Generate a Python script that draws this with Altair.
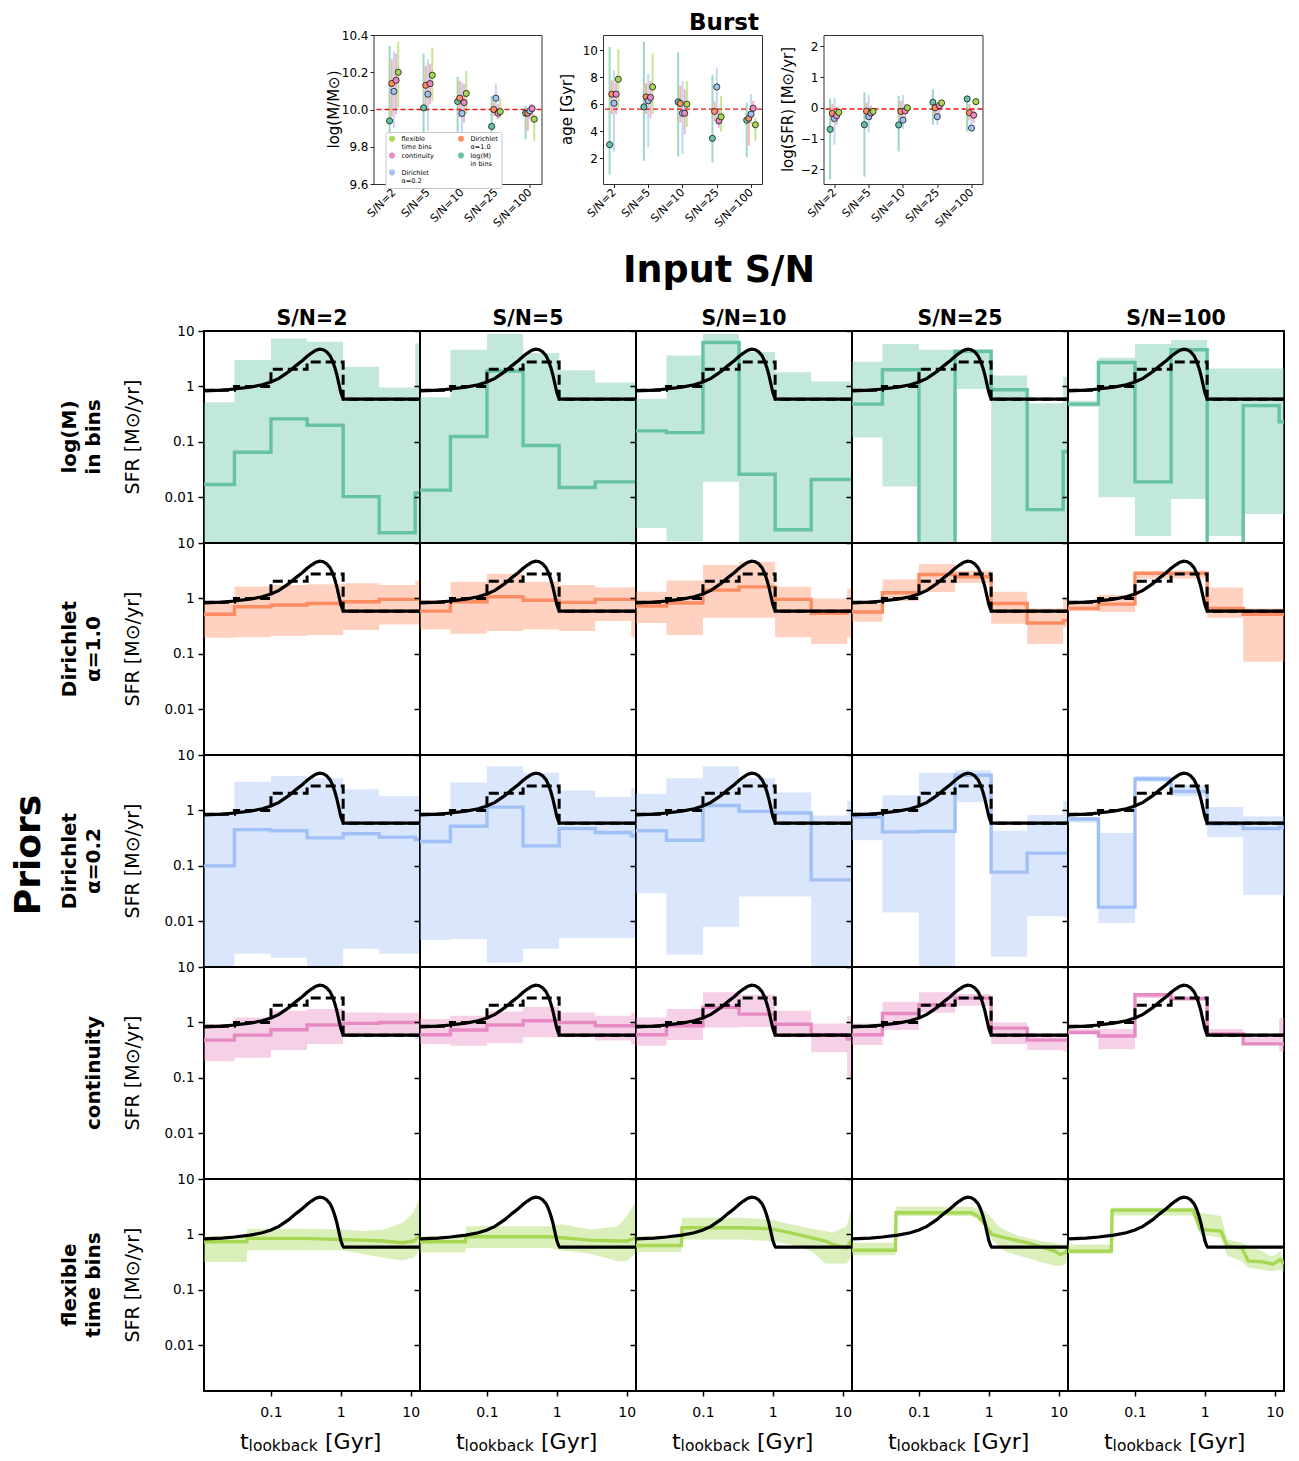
import json
import altair as alt
import pandas as pd

FONT = "DejaVu Sans"

# ---------------- categories ----------------
SN_LABELS = ["S/N=2", "S/N=5", "S/N=10", "S/N=25", "S/N=100"]
PRIOR_LABELS = ["log(M)|in bins", "Dirichlet|α=1.0", "Dirichlet|α=0.2", "continuity", "flexible|time bins"]
PRIOR_COLORS = ["#66c2a5", "#fc8d62", "#a1c0f5", "#e78ac3", "#a6d854"]
LEGEND_ORDER = ["flexible|time bins", "continuity", "Dirichlet|α=0.2", "Dirichlet|α=1.0", "log(M)|in bins"]
PRIOR_SHIFT = [-0.127, -0.0635, 0.0, 0.0635, 0.127]

# ---------------- top panels (rows: prior, cols: S/N) ----------------
MASS_TRUE = 10.0
MASS_MED = [[9.939, 10.009, 10.043, 9.909, 9.98],
            [10.14, 10.13, 10.061, 10.0, 9.98],
            [10.097, 10.082, 9.979, 10.061, 9.993],
            [10.157, 10.139, 10.037, 9.98, 10.005],
            [10.2, 10.184, 10.086, 9.989, 9.948]]
MASS_LO = [[9.72, 9.78, 9.85, 9.87, 9.84],
           [9.96, 9.993, 9.957, 9.966, 9.886],
           [9.9, 9.886, 9.85, 9.975, 9.948],
           [9.975, 10.029, 9.93, 9.948, 9.966],
           [10.01, 10.046, 9.975, 9.957, 9.832]]
MASS_HI = [[10.34, 10.3, 10.175, 10.073, 10.02],
           [10.27, 10.234, 10.154, 10.043, 9.996],
           [10.31, 10.27, 10.145, 10.136, 10.029],
           [10.3, 10.246, 10.136, 10.029, 10.029],
           [10.364, 10.332, 10.207, 10.055, 9.975]]

AGE_TRUE = 5.63
AGE_MED = [[2.99, 5.8, 6.17, 3.46, 4.81],
           [6.74, 6.54, 6.05, 5.46, 4.96],
           [6.07, 6.25, 5.33, 7.28, 5.26],
           [6.74, 6.5, 5.33, 4.77, 5.7],
           [7.85, 7.28, 6.0, 5.06, 4.47]]
AGE_LO = [[0.77, 1.8, 2.12, 1.68, 2.05],
          [5.26, 5.26, 4.64, 4.72, 2.91],
          [2.47, 2.79, 2.3, 4.47, 4.52],
          [5.26, 4.96, 3.78, 4.27, 5.01],
          [5.75, 5.26, 4.32, 3.98, 3.28]]
AGE_HI = [[10.25, 10.64, 9.83, 8.15, 6.12],
          [7.78, 7.56, 7.36, 6.2, 5.5],
          [8.52, 8.27, 7.73, 8.67, 6.74],
          [7.6, 7.73, 7.11, 5.56, 6.25],
          [10.07, 9.75, 7.73, 6.62, 5.01]]

SFR_TRUE = -0.04
SFR_MED = [[-0.70, -0.55, -0.56, 0.18, 0.29],
           [-0.18, -0.11, -0.12, 0.0, -0.16],
           [-0.35, -0.29, -0.40, -0.29, -0.66],
           [-0.26, -0.17, -0.10, 0.07, -0.24],
           [-0.15, -0.12, 0.0, 0.16, 0.2]]
SFR_LO = [[-2.32, -2.24, -1.42, -0.55, -0.77],
          [-0.48, -0.37, -0.53, -0.26, -0.4],
          [-1.2, -0.8, -0.69, -0.55, -0.75],
          [-0.55, -0.4, -0.31, -0.26, -0.48],
          [-0.31, -0.26, -0.12, 0.07, 0.12]]
SFR_HI = [[0.3, 0.5, 0.39, 0.6, 0.3],
          [0.12, 0.17, 0.23, 0.23, 0.12],
          [0.34, 0.42, 0.42, 0.12, -0.31],
          [0.03, 0.07, 0.12, 0.23, -0.01],
          [0.01, 0.01, 0.12, 0.25, 0.25]]

# ---------------- SFH grid ----------------
BIN_EDGES = [0.011, 0.03, 0.1, 0.329, 1.08, 3.54, 11.6, 13.6]
TRUE_BIN = [0.85, 1.0, 2.05, 2.75, 0.59, 0.59, 0.59]
TRUE_T = [0.011, 0.02, 0.03, 0.05, 0.075, 0.1, 0.13, 0.18, 0.23, 0.28, 0.33, 0.38, 0.44,
          0.5, 0.56, 0.63, 0.7, 0.76, 0.82, 0.88, 0.94, 1.0, 1.06, 1.1, 13.6]
TRUE_SFR = [0.83, 0.86, 0.9, 0.97, 1.07, 1.2, 1.4, 1.85, 2.4, 2.9, 3.5, 4.0, 4.5,
            4.7, 4.6, 4.2, 3.6, 2.9, 2.2, 1.6, 1.1, 0.78, 0.63, 0.59, 0.59]

LOGM_MED = [[0.017, 0.065, 0.26, 0.20, 0.0103, 0.0023, 0.012],
            [0.0135, 0.125, 1.9, 0.086, 0.015, 0.019, 0.019],
            [0.158, 0.147, 6.2, 0.026, 0.0026, 0.021, 0.021],
            [0.48, 2.0, 0.0003, 4.3, 0.87, 0.006, 0.067],
            [0.48, 2.7, 0.019, 4.6, 0.0003, 0.45, 0.23]]
LOGM_LO = [[0.0005, 0.0005, 0.0005, 0.0005, 0.0005, 0.0005, 0.0005],
           [0.0005, 0.0005, 0.0005, 0.0005, 0.0005, 0.0005, 0.0005],
           [0.0028, 0.0016, 0.019, 0.0005, 0.0005, 0.0005, 0.0005],
           [0.12, 0.0156, 0.0005, 0.9, 0.0005, 0.0005, 0.0005],
           [0.43, 0.01, 0.002, 0.0093, 0.002, 0.005, 0.005]]
LOGM_HI = [[0.52, 3.0, 7.3, 6.4, 2.26, 0.96, 6.0],
           [0.64, 4.6, 8.8, 4.0, 1.95, 1.18, 1.18],
           [0.6, 3.6, 8.8, 4.2, 1.8, 1.23, 1.23],
           [2.8, 5.8, 4.6, 4.4, 1.58, 0.5, 1.5],
           [0.55, 3.3, 5.8, 6.9, 2.1, 2.1, 2.1]]

DIR10_MED = [[0.52, 0.71, 0.76, 0.81, 0.87, 0.96, 0.96],
             [0.59, 0.87, 1.07, 0.93, 0.85, 0.96, 0.96],
             [0.73, 0.83, 1.41, 1.62, 0.96, 0.54, 0.6],
             [0.57, 1.27, 2.7, 2.46, 0.81, 0.36, 0.4],
             [0.66, 0.79, 2.83, 2.83, 0.66, 0.52, 0.52]]
DIR10_LO = [[0.195, 0.2, 0.21, 0.22, 0.27, 0.34, 0.34],
            [0.275, 0.23, 0.26, 0.275, 0.26, 0.39, 0.2],
            [0.36, 0.22, 0.45, 0.45, 0.2, 0.15, 0.2],
            [0.38, 0.9, 1.3, 1.9, 0.35, 0.15, 0.3],
            [0.6, 0.57, 2.3, 2.3, 0.45, 0.072, 0.072]]
DIR10_HI = [[0.9, 1.65, 1.75, 1.8, 1.87, 1.75, 2.1],
            [0.93, 2.0, 2.8, 2.0, 1.74, 1.58, 1.6],
            [1.32, 2.1, 4.0, 4.6, 1.62, 1.0, 1.5],
            [0.81, 2.2, 4.2, 3.16, 1.32, 0.66, 1.0],
            [0.83, 1.15, 3.16, 3.16, 1.58, 0.66, 0.66]]

DIR02_MED = [[0.1, 0.45, 0.43, 0.32, 0.38, 0.33, 0.3],
             [0.275, 0.52, 1.15, 0.23, 0.47, 0.4, 0.35],
             [0.43, 0.29, 1.23, 0.96, 0.9, 0.056, 0.056],
             [0.76, 0.41, 0.42, 4.3, 0.077, 0.17, 0.17],
             [0.7, 0.018, 3.7, 2.2, 0.57, 0.47, 0.5]]
DIR02_LO = [[0.0005, 0.0026, 0.0022, 0.0005, 0.0032, 0.0026, 0.0026],
            [0.0046, 0.0048, 0.0018, 0.0032, 0.005, 0.005, 0.005],
            [0.032, 0.0025, 0.008, 0.028, 0.028, 0.0005, 0.0005],
            [0.29, 0.0145, 0.0005, 1.41, 0.0023, 0.0123, 0.012],
            [0.6, 0.0093, 3.3, 1.8, 0.33, 0.03, 0.03]]
DIR02_HI = [[0.87, 3.3, 4.2, 3.8, 2.4, 1.8, 1.8],
            [0.93, 3.2, 6.3, 4.8, 2.3, 1.74, 2.5],
            [2.0, 3.8, 6.3, 3.8, 2.1, 0.81, 1.5],
            [0.93, 1.87, 4.8, 5.3, 0.43, 0.83, 1.5],
            [0.76, 0.39, 4.2, 2.83, 1.15, 0.78, 0.78]]

CONT_MED = [[0.48, 0.59, 0.74, 0.9, 0.96, 1.0, 1.0],
            [0.6, 0.73, 0.9, 1.07, 1.0, 0.87, 0.87],
            [0.6, 0.87, 1.87, 1.41, 0.93, 0.6, 0.5],
            [0.6, 1.45, 2.08, 2.75, 0.79, 0.48, 0.48],
            [0.66, 0.57, 3.16, 2.7, 0.62, 0.41, 0.41]]
CONT_LO = [[0.2, 0.23, 0.32, 0.41, 0.57, 0.57, 0.5],
           [0.41, 0.38, 0.42, 0.54, 0.54, 0.47, 0.4],
           [0.38, 0.48, 0.81, 0.83, 0.54, 0.29, 0.1],
           [0.39, 0.73, 1.5, 2.0, 0.41, 0.32, 0.3],
           [0.62, 0.33, 2.75, 2.46, 0.57, 0.39, 0.3]]
CONT_HI = [[0.93, 1.23, 1.62, 1.74, 1.51, 1.5, 1.5],
           [1.15, 1.32, 1.58, 1.92, 1.51, 1.32, 1.5],
           [1.23, 1.74, 3.5, 3.16, 1.62, 0.96, 1.3],
           [0.96, 2.36, 3.5, 3.25, 1.0, 0.62, 0.6],
           [0.76, 0.76, 3.3, 2.9, 0.76, 0.54, 1.2]]

FLEX_T = [[0.011, 0.045, 0.046, 0.3, 1.0, 2.0, 4.0, 7.7, 10.9, 13.6],
          [0.011, 0.049, 0.05, 0.77, 1.2, 3.0, 7.5, 10.0, 13.6],
          [0.011, 0.049, 0.05, 0.37, 0.92, 1.8, 3.6, 5.7, 7.2, 11.4, 13.6],
          [0.011, 0.046, 0.047, 0.56, 0.7, 0.88, 1.1, 1.38, 1.7, 2.75, 3.5, 5.5, 8.7, 10.5, 12.5, 13.6],
          [0.011, 0.046, 0.047, 0.68, 0.86, 1.7, 2.1, 3.4, 4.2, 6.7, 8.5, 9.5, 12.0, 13.6]]
FLEX_MED = [[0.74, 0.74, 0.85, 0.85, 0.81, 0.79, 0.76, 0.71, 0.76, 0.93],
            [0.74, 0.74, 0.91, 0.91, 0.87, 0.79, 0.76, 0.76, 0.87],
            [0.63, 0.63, 1.32, 1.32, 1.27, 1.07, 0.87, 0.76, 0.66, 0.57, 0.81],
            [0.52, 0.52, 2.46, 2.46, 2.14, 1.52, 1.0, 0.93, 0.87, 0.76, 0.71, 0.6, 0.5, 0.435, 0.47, 0.57],
            [0.5, 0.5, 2.75, 2.75, 1.23, 1.15, 0.62, 0.57, 0.33, 0.32, 0.3, 0.29, 0.35, 0.3]]
FLEX_LO = [[0.32, 0.32, 0.52, 0.52, 0.52, 0.45, 0.38, 0.34, 0.38, 0.54],
           [0.47, 0.47, 0.57, 0.57, 0.52, 0.45, 0.33, 0.33, 0.47],
           [0.48, 0.48, 0.81, 0.81, 0.76, 0.66, 0.5, 0.3, 0.3, 0.3, 0.41],
           [0.42, 0.42, 2.14, 2.14, 1.87, 1.41, 0.81, 0.62, 0.5, 0.41, 0.38, 0.32, 0.275, 0.27, 0.29, 0.35],
           [0.45, 0.45, 2.2, 2.2, 1.0, 0.87, 0.41, 0.33, 0.25, 0.23, 0.217, 0.217, 0.23, 0.217]]
FLEX_HI = [[0.93, 0.93, 1.27, 1.27, 1.23, 1.15, 1.23, 1.62, 2.46, 4.9],
           [0.93, 0.93, 1.41, 1.41, 1.52, 1.23, 1.41, 2.14, 4.0],
           [0.93, 0.93, 2.0, 2.0, 1.87, 1.52, 1.27, 1.15, 1.07, 1.41, 3.25],
           [0.71, 0.71, 3.16, 3.16, 2.91, 2.64, 2.0, 1.41, 1.2, 0.93, 0.87, 0.76, 0.71, 0.66, 0.66, 0.93],
           [0.66, 0.66, 3.03, 3.03, 2.46, 2.14, 0.81, 0.71, 0.62, 0.5, 0.41, 0.41, 0.5, 0.33]]

STEP_ROWS = [(LOGM_MED, LOGM_LO, LOGM_HI), (DIR10_MED, DIR10_LO, DIR10_HI),
             (DIR02_MED, DIR02_LO, DIR02_HI), (CONT_MED, CONT_LO, CONT_HI)]

ONE = pd.DataFrame({"k": [0]})
LEFT_EDGE = -194  # common left extent of the top block and the grid


def txt(text, x, y, size, weight="normal", angle=0, align="center", baseline="middle", line_height=None):
    kw = dict(text=text, fontSize=size, fontWeight=weight, align=align, baseline=baseline,
              font=FONT, color="black")
    if angle:
        kw["angle"] = angle
    if line_height:
        kw["lineHeight"] = line_height
    return alt.Chart(ONE).mark_text(**kw).encode(x=alt.value(x), y=alt.value(y))


def edge_marker(y):
    return alt.Chart(ONE).mark_rule(color="white", strokeWidth=1).encode(
        x=alt.value(LEFT_EDGE), y=alt.value(y), y2=alt.value(y + 2))


W, H = 216, 212


def sfh_panel(r, c):
    color = PRIOR_COLORS[r]
    if r < 4:
        med, lo, hi = (a[c] for a in STEP_ROWS[r])
        df = pd.DataFrame({"t": BIN_EDGES, "med": med + med[-1:], "lo": lo + lo[-1:], "hi": hi + hi[-1:]})
        interp = "step-after"
    else:
        df = pd.DataFrame({"t": FLEX_T[c], "med": FLEX_MED[c], "lo": FLEX_LO[c], "hi": FLEX_HI[c]})
        interp = "linear"
    if r == 4:
        xaxis = alt.Axis(values=[0.1, 1, 10], format=".1~f", domain=False, grid=False, ticks=True,
                         tickSize=5, tickWidth=1.5, tickColor="black", labelFontSize=14,
                         labelColor="black", labelFont=FONT, labelPadding=9, labelFlush=False,
                         labelOverlap=False)
    else:
        xaxis = None
    yaxis = alt.Axis(values=[0.01, 0.1, 1, 10], format=".2~f", domain=False, grid=False, ticks=True,
                     tickSize=6, tickWidth=1.5, tickColor="black", labels=(c == 0), labelFontSize=13.5,
                     labelColor="black", labelFont=FONT, labelPadding=4, labelOverlap=False,
                     labelFlush=False)
    xs = alt.Scale(type="log", domain=[0.011, 13.6], nice=False)
    ys = alt.Scale(type="log", domain=[0.0015, 10], nice=False)
    band = alt.Chart(df).mark_area(interpolate=interp, color=color, opacity=0.4, clip=True).encode(
        x=alt.X("t:Q", scale=xs, axis=xaxis, title=None),
        y=alt.Y("lo:Q", scale=ys, axis=yaxis, title=None), y2="hi:Q")
    medl = alt.Chart(df).mark_line(interpolate=interp, color=color, strokeWidth=3.4, clip=True).encode(
        x=alt.X("t:Q", title=None), y=alt.Y("med:Q", title=None))
    layers = [band, medl]
    if r < 4:
        dfb = pd.DataFrame({"t": BIN_EDGES, "v": TRUE_BIN + TRUE_BIN[-1:]})
        layers.append(alt.Chart(dfb).mark_line(interpolate="step-after", color="black", strokeWidth=3,
                                               strokeDash=[10, 5], clip=True).encode(
            x=alt.X("t:Q", title=None), y=alt.Y("v:Q", title=None)))
    dft = pd.DataFrame({"t": TRUE_T, "v": TRUE_SFR})
    layers.append(alt.Chart(dft).mark_line(color="black", strokeWidth=3.2, clip=True).encode(
        x=alt.X("t:Q", title=None), y=alt.Y("v:Q", title=None)))
    # annotations
    if r == 0:
        layers.append(txt(SN_LABELS[c], W / 2, -6, 20.5, weight="bold", baseline="alphabetic"))
        if c == 2:
            layers.append(txt("Input S/N", 83, -49, 36.5, weight="bold", baseline="alphabetic"))
    if c == 0:
        lines = PRIOR_LABELS[r].split("|")
        if len(lines) > 1:
            layers.append(txt(lines, -134, H / 2, 20, weight="bold", angle=270, line_height=24))
        else:
            layers.append(txt(lines[0], -110, H / 2, 20, weight="bold", angle=270))
        layers.append(txt("SFR [M⊙/yr]", -71, H / 2, 19, angle=270))
        if r == 2:
            layers.append(txt("Priors", -175, 100, 36, weight="bold", angle=270))
            layers.append(edge_marker(100))
    if r == 4:
        layers.append(txt("t", 36, 270, 22, align="left", baseline="alphabetic"))
        layers.append(txt("lookback", 44.6, 271.5, 15.5, align="left", baseline="alphabetic"))
        layers.append(txt("[Gyr]", 121, 270, 22, align="left", baseline="alphabetic"))
    return alt.layer(*layers).properties(width=W, height=H)


def top_panel(med, lo, hi, truth, ydom, yvals, yfmt, ytitle, ytitle_x, xdom, w, show_legend, extra=()):
    rows = []
    for p in range(5):
        for s in range(5):
            rows.append({"prior": PRIOR_LABELS[p], "pos": s + PRIOR_SHIFT[p],
                         "med": med[p][s], "lo": lo[p][s], "hi": hi[p][s]})
    df = pd.DataFrame(rows)
    cscale = alt.Scale(domain=LEGEND_ORDER,
                       range=[PRIOR_COLORS[PRIOR_LABELS.index(l)] for l in LEGEND_ORDER])
    if show_legend:
        leg = alt.Legend(orient="none", legendX=12, legendY=97, columns=2, title=None,
                         labelExpr="split(datum.label, '|')", labelFontSize=6.5, labelFont=FONT,
                         labelColor="black", symbolType="circle", symbolSize=30,
                         symbolStrokeColor="black", symbolStrokeWidth=0.6, symbolOpacity=1,
                         fillColor="white", strokeColor="#c8c8c8", padding=3, rowPadding=0,
                         columnPadding=22, cornerRadius=2, labelLimit=200, labelOffset=6)
    else:
        leg = None
    xaxis = alt.Axis(values=[0, 1, 2, 3, 4], labelExpr=json.dumps(SN_LABELS) + "[datum.value]",
                     labelAngle=315, labelAlign="right", labelBaseline="middle", labelFontSize=11,
                     labelFont=FONT, labelColor="black", tickSize=3.5, tickColor="#222222",
                     domain=False, grid=False, labelPadding=3, labelFlush=False, labelOverlap=False)
    yaxis = alt.Axis(values=yvals, format=yfmt, labelFontSize=12, labelFont=FONT, labelColor="black",
                     tickSize=3.5, tickColor="#222222", domain=False, grid=False, labelPadding=2,
                     labelFlush=False, labelOverlap=False)
    xsc = alt.Scale(domain=xdom, nice=False, zero=False)
    ysc = alt.Scale(domain=ydom, nice=False, zero=False)
    bars = alt.Chart(df).mark_rule(strokeWidth=2, opacity=0.65).encode(
        x=alt.X("pos:Q", scale=xsc, axis=xaxis, title=None),
        y=alt.Y("lo:Q", scale=ysc, axis=yaxis, title=None),
        y2="hi:Q",
        color=alt.Color("prior:N", scale=cscale, legend=leg))
    tr = alt.Chart(pd.DataFrame({"v": [truth]})).mark_rule(
        color="#ee1111", strokeDash=[5, 3], strokeWidth=1.4).encode(
        y=alt.Y("v:Q", scale=ysc, axis=yaxis, title=None))
    pts = alt.Chart(df).mark_circle(size=38, opacity=1, stroke="black", strokeWidth=0.7).encode(
        x=alt.X("pos:Q", scale=xsc, axis=xaxis, title=None),
        y=alt.Y("med:Q", scale=ysc, axis=yaxis, title=None),
        color=alt.Color("prior:N", scale=cscale, legend=leg))
    layers = [bars, tr, pts, txt(ytitle, ytitle_x, 74.5, 15, angle=270)] + list(extra)
    return alt.layer(*layers).properties(
        width=w, height=149, view=alt.ViewBackground(stroke="#333333", strokeWidth=1))


mass = top_panel(MASS_MED, MASS_LO, MASS_HI, MASS_TRUE, [9.6, 10.4], [9.6, 9.8, 10.0, 10.2, 10.4],
                 ".1f", "log(M/M⊙)", -40, [-0.6, 4.34], 168, True)
age = top_panel(AGE_MED, AGE_LO, AGE_HI, AGE_TRUE, [0.07, 11.14], [2, 4, 6, 8, 10], "d",
                "age [Gyr]", -36, [-0.32, 4.32], 159, False,
                extra=[txt("Burst", 121, -5, 23, weight="bold", baseline="alphabetic")])
sfr = top_panel(SFR_MED, SFR_LO, SFR_HI, SFR_TRUE, [-2.48, 2.37], [-2, -1, 0, 1, 2], "d",
                "log(SFR) [M⊙/yr]", -36, [-0.32, 4.32], 159, False)

left_spacer = edge_marker(60).properties(width=107.5, height=149,
                                         view=alt.ViewBackground(stroke="transparent"))

top = alt.hconcat(left_spacer, mass, age, sfr, spacing=61.5, bounds="flush").resolve_scale(
    color="independent").resolve_legend(color="independent")

grid = alt.concat(*[sfh_panel(r, c) for r in range(5) for c in range(5)], columns=5, spacing=0,
                  bounds="flush")

chart = alt.vconcat(top, grid, spacing=22).properties(
    padding={"left": 0, "top": 3, "right": 5, "bottom": 5}
).configure(font=FONT).configure_view(stroke="black", strokeWidth=2).configure_axis(labelOverlap=False)

chart.save("out.html", embed_options={"renderer": "svg", "actions": False})
